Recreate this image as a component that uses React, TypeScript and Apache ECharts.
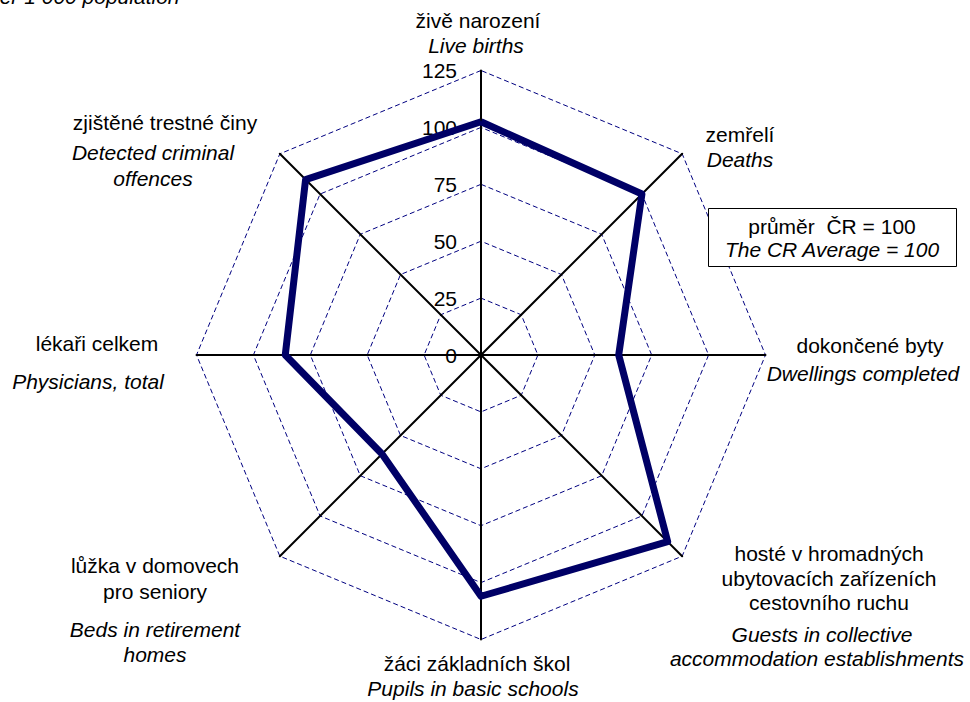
import React, { useEffect, useRef } from "react";
import * as echarts from "echarts";

// Indicators in ECharts order (counter-clockwise from top)
const indicatorsCz = [
  "živě narození",
  "zjištěné trestné činy",
  "lékaři celkem",
  "lůžka v domovech pro seniory",
  "žáci základních škol",
  "hosté v hromadných ubytovacích zařízeních cestovního ruchu",
  "dokončené byty",
  "zemřelí",
];
const indicatorsEn = [
  "Live births",
  "Detected criminal offences",
  "Physicians, total",
  "Beds in retirement homes",
  "Pupils in basic schools",
  "Guests in collective accommodation establishments",
  "Dwellings completed",
  "Deaths",
];
const values = [102.5, 109, 86, 61.5, 106, 116, 60.5, 100];
const tickValues = [0, 25, 50, 75, 100, 125];
const axisMax = 125;

const FONT = "'Liberation Sans', Arial, sans-serif";
const CX = 481;
const CY = 355;
const R = 284.5;

type Line = { text: string; x: number; y: number; italic?: boolean };
const labelLines: Line[] = [
  { text: "živě narození", x: 478, y: 20 },
  { text: "Live births", x: 476, y: 45, italic: true },
  { text: "zemřelí", x: 740, y: 134 },
  { text: "Deaths", x: 740, y: 159, italic: true },
  { text: "dokončené byty", x: 870, y: 345 },
  { text: "Dwellings completed", x: 863, y: 373, italic: true },
  { text: "hosté v hromadných", x: 829, y: 553 },
  { text: "ubytovacích zařízeních", x: 829, y: 578 },
  { text: "cestovního ruchu", x: 829, y: 602 },
  { text: "Guests in collective", x: 822, y: 634, italic: true },
  { text: "accommodation establishments", x: 817, y: 658, italic: true },
  { text: "žáci základních škol", x: 477, y: 663 },
  { text: "Pupils in basic schools", x: 473, y: 688, italic: true },
  { text: "lůžka v domovech", x: 155, y: 565 },
  { text: "pro seniory", x: 155, y: 591 },
  { text: "Beds in retirement", x: 155, y: 629, italic: true },
  { text: "homes", x: 155, y: 654, italic: true },
  { text: "lékaři celkem", x: 97, y: 343 },
  { text: "Physicians, total", x: 88, y: 381, italic: true },
  { text: "zjištěné trestné činy", x: 165, y: 122 },
  { text: "Detected criminal", x: 153, y: 152, italic: true },
  { text: "offences", x: 153, y: 178, italic: true },
];

export default function App() {
  const ref = useRef<HTMLDivElement>(null);
  useEffect(() => {
    if (!ref.current) return;
    const chart = echarts.init(ref.current, null, { renderer: "svg" });
    const graphics: any[] = [];
    labelLines.forEach((l) => {
      graphics.push({
        type: "text",
        x: l.x,
        y: l.y,
        style: {
          text: l.text,
          fill: "#000",
          font: `${l.italic ? "italic " : ""}21px ${FONT}`,
          textAlign: "center",
          textVerticalAlign: "middle",
        },
      });
    });
    tickValues.forEach((v) => {
      graphics.push({
        type: "text",
        x: 457,
        y: CY - (R * v) / axisMax,
        style: {
          text: String(v),
          fill: "#000",
          font: `21px ${FONT}`,
          textAlign: "right",
          textVerticalAlign: "middle",
        },
      });
    });
    graphics.push({
      type: "text",
      x: -12,
      y: 7,
      style: {
        text: "per 1 000 population",
        fill: "#000",
        font: `italic 21px ${FONT}`,
        textAlign: "left",
        textVerticalAlign: "bottom",
      },
    });
    graphics.push({
      type: "rect",
      shape: { x: 708.5, y: 208.5, width: 248, height: 58 },
      style: { fill: "#fff", stroke: "#000", lineWidth: 1 },
      z: 10,
    });
    graphics.push({
      type: "text",
      x: 832,
      y: 226,
      z: 11,
      style: {
        text: "průměr  ČR = 100",
        fill: "#000",
        font: `21px ${FONT}`,
        textAlign: "center",
        textVerticalAlign: "middle",
      },
    });
    graphics.push({
      type: "text",
      x: 832,
      y: 249,
      z: 11,
      style: {
        text: "The CR Average = 100",
        fill: "#000",
        font: `italic 21px ${FONT}`,
        textAlign: "center",
        textVerticalAlign: "middle",
      },
    });

    chart.setOption({
      animation: false,
      backgroundColor: "#fff",
      radar: {
        center: [CX, CY],
        radius: R,
        startAngle: 90,
        splitNumber: 5,
        shape: "polygon",
        indicator: indicatorsCz.map((n) => ({ name: n, min: 0, max: axisMax })),
        axisName: { show: false },
        axisLine: { lineStyle: { color: "#000", width: 2 } },
        splitLine: {
          lineStyle: { color: "#000080", width: 1, type: [5, 3] },
        },
        splitArea: { show: false },
        axisTick: { show: false },
        axisLabel: { show: false },
      },
      series: [
        {
          type: "radar",
          symbol: "none",
          lineStyle: { color: "#000066", width: 7 },
          data: [{ value: values, name: indicatorsEn.join(" / ") }],
        },
      ],
      graphic: graphics,
    });
    return () => chart.dispose();
  }, []);
  return (
    <div
      ref={ref}
      style={{ position: "absolute", left: 0, top: 0, width: 970, height: 702 }}
    />
  );
}
